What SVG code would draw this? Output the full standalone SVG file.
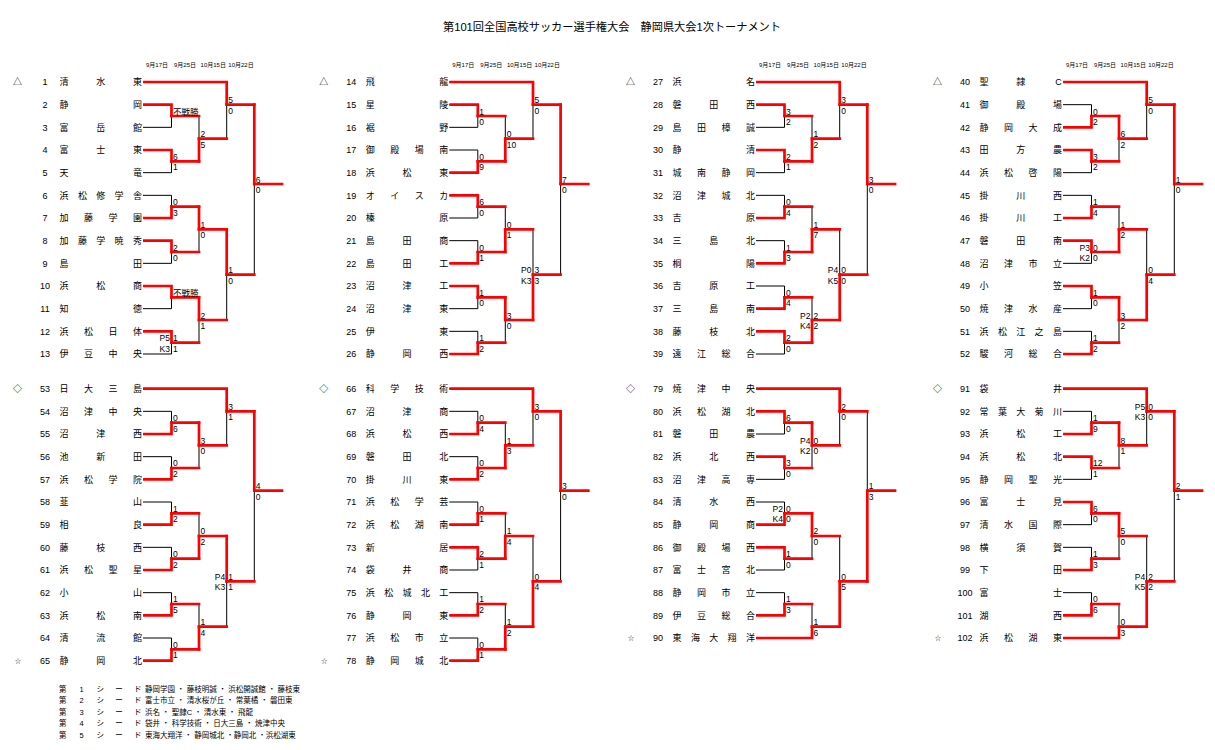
<svg xmlns="http://www.w3.org/2000/svg" xmlns:xlink="http://www.w3.org/1999/xlink" width="1215" height="750" viewBox="0 0 1215 750">
<style>
text{font-family:"Liberation Sans","Noto Sans CJK JP",sans-serif;fill:#000}
.k{fill:none;stroke:#000;stroke-width:1}
.r{fill:none;stroke:#f00;stroke-width:2.7;stroke-linecap:square}
.tm{font-size:9px;text-anchor:middle}
.sm{font-size:6px;text-anchor:middle}
.sc text{font-size:8.5px}
.sc .p{text-anchor:end}
.dt{font-size:6px;text-anchor:middle}
.lg{font-size:7.5px}
.lgm{text-anchor:middle}
.ttl{font-size:11.5px;text-anchor:middle}
</style>
<defs>
<path id="bk13" d="M143 0H226.7M143 22.67H171.5M143 45.33H171.5M143 68H171.5M143 90.67H171.5M143 113.33H171.5M143 136H171.5M143 158.67H171.5M143 181.33H171.5M143 204H171.5M143 226.67H171.5M143 249.33H171.5M143 272H171.5M171.5 22.67V45.33M171.5 68V90.67M171.5 113.33V136M171.5 158.67V181.33M171.5 204V226.67M171.5 249.33V272M199 34V79.33M199 124.67V170M199 215.33V260.67M226.7 0V56.67M226.7 147.33V238M254.3 22.67V192.67"/>
<path id="bk12" d="M143 0H226.7M143 22.67H171.5M143 45.33H171.5M143 68H171.5M143 90.67H171.5M143 113.33H171.5M143 136H171.5M143 158.67H171.5M143 181.33H171.5M143 204H171.5M143 226.67H171.5M143 249.33H199M171.5 22.67V45.33M171.5 68V90.67M171.5 113.33V136M171.5 158.67V181.33M171.5 204V226.67M199 34V79.33M199 124.67V170M199 215.33V249.33M226.7 0V56.67M226.7 147.33V238M254.3 22.67V192.67"/>
<path id="rd13" d="M171.5 34H199M171.5 79.33H199M171.5 124.67H199M171.5 170H199M171.5 215.33H199M171.5 260.67H199M199 56.67H226.7M199 147.33H226.7M199 238H226.7M226.7 22.67H254.3M226.7 192.67H254.3M254.3 102H282"/>
<path id="rd12" d="M171.5 34H199M171.5 79.33H199M171.5 124.67H199M171.5 170H199M171.5 215.33H199M199 56.67H226.7M199 147.33H226.7M199 238H226.7M226.7 22.67H254.3M226.7 192.67H254.3M254.3 102H282"/>
</defs>
<rect width="1215" height="750" fill="#fff"/>
<text class="ttl" x="612" y="31.3" textLength="338" lengthAdjust="spacingAndGlyphs">第101回全国高校サッカー選手権大会　静岡県大会1次トーナメント</text>

<g id="dates">
<g transform="translate(0,82)"><text class="dt" x="157" y="-15.2">9月17日</text><text class="dt" x="185" y="-15.2">9月25日</text><text class="dt" x="213.3" y="-15.2">10月15日</text><text class="dt" x="241" y="-15.2">10月22日</text></g>
<g transform="translate(306.3,82)"><text class="dt" x="157" y="-15.2">9月17日</text><text class="dt" x="185" y="-15.2">9月25日</text><text class="dt" x="213.3" y="-15.2">10月15日</text><text class="dt" x="241" y="-15.2">10月22日</text></g>
<g transform="translate(613,82)"><text class="dt" x="157" y="-15.2">9月17日</text><text class="dt" x="185" y="-15.2">9月25日</text><text class="dt" x="213.3" y="-15.2">10月15日</text><text class="dt" x="241" y="-15.2">10月22日</text></g>
<g transform="translate(920,82)"><text class="dt" x="157" y="-15.2">9月17日</text><text class="dt" x="185" y="-15.2">9月25日</text><text class="dt" x="213.3" y="-15.2">10月15日</text><text class="dt" x="241" y="-15.2">10月22日</text></g>
</g>

<g id="connectors">
<g id="c-a" transform="translate(0,82)">
<use href="#bk13" class="k"/><use href="#rd13" class="r"/>
<path class="r" d="M144.4 0H226.7M144.4 22.67H171.5M144.4 68H171.5M144.4 136H171.5M144.4 158.67H171.5M144.4 204H171.5M144.4 249.33H171.5M171.5 22.67V34M171.5 68V79.33M171.5 124.67V136M171.5 158.67V170M171.5 204V215.33M171.5 249.33V260.67M199 56.67V79.33M199 124.67V147.33M199 215.33V238M226.7 0V22.67M226.7 147.33V192.67M254.3 22.67V102"/>
</g>
<g id="c-b" transform="translate(0,388.67)">
<use href="#bk13" class="k"/><use href="#rd13" class="r"/>
<path class="r" d="M144.4 0H226.7M144.4 45.33H171.5M144.4 90.67H171.5M144.4 136H171.5M144.4 181.33H171.5M144.4 226.67H171.5M144.4 272H171.5M171.5 34V45.33M171.5 79.33V90.67M171.5 124.67V136M171.5 170V181.33M171.5 215.33V226.67M171.5 260.67V272M199 34V56.67M199 147.33V170M199 238V260.67M226.7 0V22.67M226.7 147.33V192.67M254.3 22.67V102"/>
</g>
<g id="c-c" transform="translate(306.3,82)">
<use href="#bk13" class="k"/><use href="#rd13" class="r"/>
<path class="r" d="M144.4 0H226.7M144.4 22.67H171.5M144.4 90.67H171.5M144.4 113.33H171.5M144.4 181.33H171.5M144.4 204H171.5M144.4 272H171.5M171.5 22.67V34M171.5 79.33V90.67M171.5 113.33V124.67M171.5 170V181.33M171.5 204V215.33M171.5 260.67V272M199 56.67V79.33M199 147.33V170M199 215.33V238M226.7 0V22.67M226.7 192.67V238M254.3 22.67V102"/>
</g>
<g id="c-d" transform="translate(306.3,388.67)">
<use href="#bk13" class="k"/><use href="#rd13" class="r"/>
<path class="r" d="M144.4 0H226.7M144.4 45.33H171.5M144.4 90.67H171.5M144.4 136H171.5M144.4 158.67H171.5M144.4 226.67H171.5M144.4 272H171.5M171.5 34V45.33M171.5 79.33V90.67M171.5 124.67V136M171.5 158.67V170M171.5 215.33V226.67M171.5 260.67V272M199 56.67V79.33M199 147.33V170M199 238V260.67M226.7 0V22.67M226.7 192.67V238M254.3 22.67V102"/>
</g>
<g id="c-e" transform="translate(613,82)">
<use href="#bk13" class="k"/><use href="#rd13" class="r"/>
<path class="r" d="M144.4 0H226.7M144.4 22.67H171.5M144.4 68H171.5M144.4 136H171.5M144.4 181.33H171.5M144.4 226.67H171.5M144.4 249.33H171.5M171.5 22.67V34M171.5 68V79.33M171.5 124.67V136M171.5 170V181.33M171.5 215.33V226.67M171.5 249.33V260.67M199 56.67V79.33M199 147.33V170M199 238V260.67M226.7 0V22.67M226.7 192.67V238M254.3 22.67V102"/>
</g>
<g id="c-f" transform="translate(613,388.67)">
<use href="#bk12" class="k"/><use href="#rd12" class="r"/>
<path class="r" d="M144.4 0H226.7M144.4 22.67H171.5M144.4 68H171.5M144.4 136H171.5M144.4 158.67H171.5M144.4 226.67H171.5M144.4 249.33H199M171.5 22.67V34M171.5 68V79.33M171.5 124.67V136M171.5 158.67V170M171.5 215.33V226.67M199 34V56.67M199 124.67V147.33M199 238V249.33M226.7 0V22.67M226.7 192.67V238M254.3 102V192.67"/>
</g>
<g id="c-g" transform="translate(920,82)">
<use href="#bk13" class="k"/><use href="#rd13" class="r"/>
<path class="r" d="M144.4 0H226.7M144.4 45.33H171.5M144.4 68H171.5M144.4 136H171.5M144.4 158.67H171.5M144.4 204H171.5M144.4 272H171.5M171.5 34V45.33M171.5 68V79.33M171.5 124.67V136M171.5 158.67V170M171.5 204V215.33M171.5 260.67V272M199 34V56.67M199 147.33V170M199 215.33V238M226.7 0V22.67M226.7 192.67V238M254.3 22.67V102"/>
</g>
<g id="c-h" transform="translate(920,388.67)">
<use href="#bk12" class="k"/><use href="#rd12" class="r"/>
<path class="r" d="M144.4 0H226.7M144.4 45.33H171.5M144.4 68H171.5M144.4 113.33H171.5M144.4 181.33H171.5M144.4 226.67H171.5M144.4 249.33H199M171.5 34V45.33M171.5 68V79.33M171.5 113.33V124.67M171.5 170V181.33M171.5 215.33V226.67M199 34V56.67M199 124.67V147.33M199 238V249.33M226.7 0V22.67M226.7 192.67V238M254.3 22.67V102"/>
</g>
</g>

<g id="scores">
<g class="sc" transform="translate(0,82)">
<text x="173" y="32.5">不戦勝</text>
<text x="173" y="77.8">6</text><text x="173" y="88.3">1</text>
<text x="173" y="123.2">0</text><text x="173" y="133.7">3</text>
<text x="173" y="168.5">2</text><text x="173" y="179">0</text>
<text x="173" y="213.8">不戦勝</text>
<text x="173" y="259.2">1</text><text x="173" y="269.7">1</text><text class="p" x="170" y="259.2">P5</text><text class="p" x="170" y="269.7">K3</text>
<text x="200.5" y="55.2">2</text><text x="200.5" y="65.7">5</text>
<text x="200.5" y="145.8">1</text><text x="200.5" y="156.3">0</text>
<text x="200.5" y="236.5">2</text><text x="200.5" y="247">1</text>
<text x="228.2" y="21.2">5</text><text x="228.2" y="31.7">0</text>
<text x="228.2" y="191.2">1</text><text x="228.2" y="201.7">0</text>
<text x="255.8" y="100.5">6</text><text x="255.8" y="111">0</text>
</g>
<g class="sc" transform="translate(0,388.67)">
<text x="173" y="32.5">0</text><text x="173" y="43">6</text>
<text x="173" y="77.8">0</text><text x="173" y="88.3">2</text>
<text x="173" y="123.2">1</text><text x="173" y="133.7">2</text>
<text x="173" y="168.5">0</text><text x="173" y="179">2</text>
<text x="173" y="213.8">1</text><text x="173" y="224.3">5</text>
<text x="173" y="259.2">0</text><text x="173" y="269.7">1</text>
<text x="200.5" y="55.2">3</text><text x="200.5" y="65.7">0</text>
<text x="200.5" y="145.8">0</text><text x="200.5" y="156.3">2</text>
<text x="200.5" y="236.5">1</text><text x="200.5" y="247">4</text>
<text x="228.2" y="21.2">3</text><text x="228.2" y="31.7">1</text>
<text x="228.2" y="191.2">1</text><text x="228.2" y="201.7">1</text><text class="p" x="225.2" y="191.2">P4</text><text class="p" x="225.2" y="201.7">K3</text>
<text x="255.8" y="100.5">4</text><text x="255.8" y="111">0</text>
</g>
<g class="sc" transform="translate(306.3,82)">
<text x="173" y="32.5">1</text><text x="173" y="43">0</text>
<text x="173" y="77.8">0</text><text x="173" y="88.3">9</text>
<text x="173" y="123.2">6</text><text x="173" y="133.7">0</text>
<text x="173" y="168.5">0</text><text x="173" y="179">1</text>
<text x="173" y="213.8">1</text><text x="173" y="224.3">0</text>
<text x="173" y="259.2">1</text><text x="173" y="269.7">2</text>
<text x="200.5" y="55.2">0</text><text x="200.5" y="65.7">10</text>
<text x="200.5" y="145.8">0</text><text x="200.5" y="156.3">1</text>
<text x="200.5" y="236.5">3</text><text x="200.5" y="247">0</text>
<text x="228.2" y="21.2">5</text><text x="228.2" y="31.7">0</text>
<text x="228.2" y="191.2">3</text><text x="228.2" y="201.7">3</text><text class="p" x="225.2" y="191.2">P0</text><text class="p" x="225.2" y="201.7">K3</text>
<text x="255.8" y="100.5">7</text><text x="255.8" y="111">0</text>
</g>
<g class="sc" transform="translate(306.3,388.67)">
<text x="173" y="32.5">0</text><text x="173" y="43">4</text>
<text x="173" y="77.8">0</text><text x="173" y="88.3">2</text>
<text x="173" y="123.2">0</text><text x="173" y="133.7">1</text>
<text x="173" y="168.5">2</text><text x="173" y="179">1</text>
<text x="173" y="213.8">1</text><text x="173" y="224.3">2</text>
<text x="173" y="259.2">0</text><text x="173" y="269.7">1</text>
<text x="200.5" y="55.2">1</text><text x="200.5" y="65.7">3</text>
<text x="200.5" y="145.8">1</text><text x="200.5" y="156.3">4</text>
<text x="200.5" y="236.5">1</text><text x="200.5" y="247">2</text>
<text x="228.2" y="21.2">3</text><text x="228.2" y="31.7">0</text>
<text x="228.2" y="191.2">0</text><text x="228.2" y="201.7">4</text>
<text x="255.8" y="100.5">3</text><text x="255.8" y="111">0</text>
</g>
<g class="sc" transform="translate(613,82)">
<text x="173" y="32.5">3</text><text x="173" y="43">2</text>
<text x="173" y="77.8">2</text><text x="173" y="88.3">1</text>
<text x="173" y="123.2">0</text><text x="173" y="133.7">4</text>
<text x="173" y="168.5">1</text><text x="173" y="179">3</text>
<text x="173" y="213.8">0</text><text x="173" y="224.3">4</text>
<text x="173" y="259.2">2</text><text x="173" y="269.7">0</text>
<text x="200.5" y="55.2">1</text><text x="200.5" y="65.7">2</text>
<text x="200.5" y="145.8">1</text><text x="200.5" y="156.3">7</text>
<text x="200.5" y="236.5">2</text><text x="200.5" y="247">2</text><text class="p" x="197.5" y="236.5">P2</text><text class="p" x="197.5" y="247">K4</text>
<text x="228.2" y="21.2">3</text><text x="228.2" y="31.7">0</text>
<text x="228.2" y="191.2">0</text><text x="228.2" y="201.7">0</text><text class="p" x="225.2" y="191.2">P4</text><text class="p" x="225.2" y="201.7">K5</text>
<text x="255.8" y="100.5">3</text><text x="255.8" y="111">0</text>
</g>
<g class="sc" transform="translate(613,388.67)">
<text x="173" y="32.5">6</text><text x="173" y="43">0</text>
<text x="173" y="77.8">3</text><text x="173" y="88.3">0</text>
<text x="173" y="123.2">0</text><text x="173" y="133.7">0</text><text class="p" x="170" y="123.2">P2</text><text class="p" x="170" y="133.7">K4</text>
<text x="173" y="168.5">1</text><text x="173" y="179">0</text>
<text x="173" y="213.8">1</text><text x="173" y="224.3">3</text>
<text x="200.5" y="55.2">0</text><text x="200.5" y="65.7">0</text><text class="p" x="197.5" y="55.2">P4</text><text class="p" x="197.5" y="65.7">K2</text>
<text x="200.5" y="145.8">2</text><text x="200.5" y="156.3">0</text>
<text x="200.5" y="236.5">1</text><text x="200.5" y="247">6</text>
<text x="228.2" y="21.2">2</text><text x="228.2" y="31.7">0</text>
<text x="228.2" y="191.2">0</text><text x="228.2" y="201.7">5</text>
<text x="255.8" y="100.5">1</text><text x="255.8" y="111">3</text>
</g>
<g class="sc" transform="translate(920,82)">
<text x="173" y="32.5">0</text><text x="173" y="43">2</text>
<text x="173" y="77.8">3</text><text x="173" y="88.3">2</text>
<text x="173" y="123.2">1</text><text x="173" y="133.7">4</text>
<text x="173" y="168.5">0</text><text x="173" y="179">0</text><text class="p" x="170" y="168.5">P3</text><text class="p" x="170" y="179">K2</text>
<text x="173" y="213.8">1</text><text x="173" y="224.3">0</text>
<text x="173" y="259.2">1</text><text x="173" y="269.7">2</text>
<text x="200.5" y="55.2">6</text><text x="200.5" y="65.7">2</text>
<text x="200.5" y="145.8">1</text><text x="200.5" y="156.3">2</text>
<text x="200.5" y="236.5">3</text><text x="200.5" y="247">2</text>
<text x="228.2" y="21.2">5</text><text x="228.2" y="31.7">0</text>
<text x="228.2" y="191.2">0</text><text x="228.2" y="201.7">4</text>
<text x="255.8" y="100.5">1</text><text x="255.8" y="111">0</text>
</g>
<g class="sc" transform="translate(920,388.67)">
<text x="173" y="32.5">1</text><text x="173" y="43">9</text>
<text x="173" y="77.8">12</text><text x="173" y="88.3">1</text>
<text x="173" y="123.2">6</text><text x="173" y="133.7">0</text>
<text x="173" y="168.5">1</text><text x="173" y="179">3</text>
<text x="173" y="213.8">0</text><text x="173" y="224.3">6</text>
<text x="200.5" y="55.2">8</text><text x="200.5" y="65.7">1</text>
<text x="200.5" y="145.8">5</text><text x="200.5" y="156.3">0</text>
<text x="200.5" y="236.5">0</text><text x="200.5" y="247">3</text>
<text x="228.2" y="21.2">0</text><text x="228.2" y="31.7">0</text><text class="p" x="225.2" y="21.2">P5</text><text class="p" x="225.2" y="31.7">K3</text>
<text x="228.2" y="191.2">2</text><text x="228.2" y="201.7">2</text><text class="p" x="225.2" y="191.2">P4</text><text class="p" x="225.2" y="201.7">K5</text>
<text x="255.8" y="100.5">2</text><text x="255.8" y="111">1</text>
</g>
</g>

<g id="teams">
<g transform="translate(0,82)">
<g id="team-1"><text class="tm" x="17.5" y="3.2">△</text><text class="tm" x="45" y="3.2">1</text><text class="tm" x="64 100.75 137.5" y="3.2">清水東</text></g>
<g id="team-2"><text class="tm" x="45" y="25.87">2</text><text class="tm" x="64 137.5" y="25.87">静岡</text></g>
<g id="team-3"><text class="tm" x="45" y="48.53">3</text><text class="tm" x="64 100.75 137.5" y="48.53">富岳館</text></g>
<g id="team-4"><text class="tm" x="45" y="71.2">4</text><text class="tm" x="64 100.75 137.5" y="71.2">富士東</text></g>
<g id="team-5"><text class="tm" x="45" y="93.87">5</text><text class="tm" x="64 137.5" y="93.87">天竜</text></g>
<g id="team-6"><text class="tm" x="45" y="116.53">6</text><text class="tm" x="64 82.4 100.8 119.1 137.5" y="116.53">浜松修学舎</text></g>
<g id="team-7"><text class="tm" x="45" y="139.2">7</text><text class="tm" x="64 88.5 113 137.5" y="139.2">加藤学園</text></g>
<g id="team-8"><text class="tm" x="45" y="161.87">8</text><text class="tm" x="64 82.4 100.8 119.1 137.5" y="161.87">加藤学暁秀</text></g>
<g id="team-9"><text class="tm" x="45" y="184.53">9</text><text class="tm" x="64 137.5" y="184.53">島田</text></g>
<g id="team-10"><text class="tm" x="45" y="207.2">10</text><text class="tm" x="64 100.75 137.5" y="207.2">浜松商</text></g>
<g id="team-11"><text class="tm" x="45" y="229.87">11</text><text class="tm" x="64 137.5" y="229.87">知徳</text></g>
<g id="team-12"><text class="tm" x="45" y="252.53">12</text><text class="tm" x="64 88.5 113 137.5" y="252.53">浜松日体</text></g>
<g id="team-13"><text class="tm" x="45" y="275.2">13</text><text class="tm" x="64 88.5 113 137.5" y="275.2">伊豆中央</text></g>
</g>
<g transform="translate(0,388.67)">
<g id="team-53"><text class="tm" x="17.5" y="3.2">◇</text><text class="tm" x="45" y="3.2">53</text><text class="tm" x="64 88.5 113 137.5" y="3.2">日大三島</text></g>
<g id="team-54"><text class="tm" x="45" y="25.87">54</text><text class="tm" x="64 88.5 113 137.5" y="25.87">沼津中央</text></g>
<g id="team-55"><text class="tm" x="45" y="48.53">55</text><text class="tm" x="64 100.75 137.5" y="48.53">沼津西</text></g>
<g id="team-56"><text class="tm" x="45" y="71.2">56</text><text class="tm" x="64 100.75 137.5" y="71.2">池新田</text></g>
<g id="team-57"><text class="tm" x="45" y="93.87">57</text><text class="tm" x="64 88.5 113 137.5" y="93.87">浜松学院</text></g>
<g id="team-58"><text class="tm" x="45" y="116.53">58</text><text class="tm" x="64 137.5" y="116.53">韮山</text></g>
<g id="team-59"><text class="tm" x="45" y="139.2">59</text><text class="tm" x="64 137.5" y="139.2">相良</text></g>
<g id="team-60"><text class="tm" x="45" y="161.87">60</text><text class="tm" x="64 100.75 137.5" y="161.87">藤枝西</text></g>
<g id="team-61"><text class="tm" x="45" y="184.53">61</text><text class="tm" x="64 88.5 113 137.5" y="184.53">浜松聖星</text></g>
<g id="team-62"><text class="tm" x="45" y="207.2">62</text><text class="tm" x="64 137.5" y="207.2">小山</text></g>
<g id="team-63"><text class="tm" x="45" y="229.87">63</text><text class="tm" x="64 100.75 137.5" y="229.87">浜松南</text></g>
<g id="team-64"><text class="tm" x="45" y="252.53">64</text><text class="tm" x="64 100.75 137.5" y="252.53">清流館</text></g>
<g id="team-65"><text class="sm" x="18" y="274.5">☆</text><text class="tm" x="45" y="275.2">65</text><text class="tm" x="64 100.75 137.5" y="275.2">静岡北</text></g>
</g>
<g transform="translate(306.3,82)">
<g id="team-14"><text class="tm" x="17.5" y="3.2">△</text><text class="tm" x="45" y="3.2">14</text><text class="tm" x="64 137.5" y="3.2">飛龍</text></g>
<g id="team-15"><text class="tm" x="45" y="25.87">15</text><text class="tm" x="64 137.5" y="25.87">星陵</text></g>
<g id="team-16"><text class="tm" x="45" y="48.53">16</text><text class="tm" x="64 137.5" y="48.53">裾野</text></g>
<g id="team-17"><text class="tm" x="45" y="71.2">17</text><text class="tm" x="64 88.5 113 137.5" y="71.2">御殿場南</text></g>
<g id="team-18"><text class="tm" x="45" y="93.87">18</text><text class="tm" x="64 100.75 137.5" y="93.87">浜松東</text></g>
<g id="team-19"><text class="tm" x="45" y="116.53">19</text><text class="tm" x="64 88.5 113 137.5" y="116.53">オイスカ</text></g>
<g id="team-20"><text class="tm" x="45" y="139.2">20</text><text class="tm" x="64 137.5" y="139.2">榛原</text></g>
<g id="team-21"><text class="tm" x="45" y="161.87">21</text><text class="tm" x="64 100.75 137.5" y="161.87">島田商</text></g>
<g id="team-22"><text class="tm" x="45" y="184.53">22</text><text class="tm" x="64 100.75 137.5" y="184.53">島田工</text></g>
<g id="team-23"><text class="tm" x="45" y="207.2">23</text><text class="tm" x="64 100.75 137.5" y="207.2">沼津工</text></g>
<g id="team-24"><text class="tm" x="45" y="229.87">24</text><text class="tm" x="64 100.75 137.5" y="229.87">沼津東</text></g>
<g id="team-25"><text class="tm" x="45" y="252.53">25</text><text class="tm" x="64 137.5" y="252.53">伊東</text></g>
<g id="team-26"><text class="tm" x="45" y="275.2">26</text><text class="tm" x="64 100.75 137.5" y="275.2">静岡西</text></g>
</g>
<g transform="translate(306.3,388.67)">
<g id="team-66"><text class="tm" x="17.5" y="3.2">◇</text><text class="tm" x="45" y="3.2">66</text><text class="tm" x="64 88.5 113 137.5" y="3.2">科学技術</text></g>
<g id="team-67"><text class="tm" x="45" y="25.87">67</text><text class="tm" x="64 100.75 137.5" y="25.87">沼津商</text></g>
<g id="team-68"><text class="tm" x="45" y="48.53">68</text><text class="tm" x="64 100.75 137.5" y="48.53">浜松西</text></g>
<g id="team-69"><text class="tm" x="45" y="71.2">69</text><text class="tm" x="64 100.75 137.5" y="71.2">磐田北</text></g>
<g id="team-70"><text class="tm" x="45" y="93.87">70</text><text class="tm" x="64 100.75 137.5" y="93.87">掛川東</text></g>
<g id="team-71"><text class="tm" x="45" y="116.53">71</text><text class="tm" x="64 88.5 113 137.5" y="116.53">浜松学芸</text></g>
<g id="team-72"><text class="tm" x="45" y="139.2">72</text><text class="tm" x="64 88.5 113 137.5" y="139.2">浜松湖南</text></g>
<g id="team-73"><text class="tm" x="45" y="161.87">73</text><text class="tm" x="64 137.5" y="161.87">新居</text></g>
<g id="team-74"><text class="tm" x="45" y="184.53">74</text><text class="tm" x="64 100.75 137.5" y="184.53">袋井商</text></g>
<g id="team-75"><text class="tm" x="45" y="207.2">75</text><text class="tm" x="64 82.4 100.8 119.1 137.5" y="207.2">浜松城北工</text></g>
<g id="team-76"><text class="tm" x="45" y="229.87">76</text><text class="tm" x="64 100.75 137.5" y="229.87">静岡東</text></g>
<g id="team-77"><text class="tm" x="45" y="252.53">77</text><text class="tm" x="64 88.5 113 137.5" y="252.53">浜松市立</text></g>
<g id="team-78"><text class="sm" x="18" y="274.5">☆</text><text class="tm" x="45" y="275.2">78</text><text class="tm" x="64 88.5 113 137.5" y="275.2">静岡城北</text></g>
</g>
<g transform="translate(613,82)">
<g id="team-27"><text class="tm" x="17.5" y="3.2">△</text><text class="tm" x="45" y="3.2">27</text><text class="tm" x="64 137.5" y="3.2">浜名</text></g>
<g id="team-28"><text class="tm" x="45" y="25.87">28</text><text class="tm" x="64 100.75 137.5" y="25.87">磐田西</text></g>
<g id="team-29"><text class="tm" x="45" y="48.53">29</text><text class="tm" x="64 88.5 113 137.5" y="48.53">島田樟誠</text></g>
<g id="team-30"><text class="tm" x="45" y="71.2">30</text><text class="tm" x="64 137.5" y="71.2">静清</text></g>
<g id="team-31"><text class="tm" x="45" y="93.87">31</text><text class="tm" x="64 88.5 113 137.5" y="93.87">城南静岡</text></g>
<g id="team-32"><text class="tm" x="45" y="116.53">32</text><text class="tm" x="64 88.5 113 137.5" y="116.53">沼津城北</text></g>
<g id="team-33"><text class="tm" x="45" y="139.2">33</text><text class="tm" x="64 137.5" y="139.2">吉原</text></g>
<g id="team-34"><text class="tm" x="45" y="161.87">34</text><text class="tm" x="64 100.75 137.5" y="161.87">三島北</text></g>
<g id="team-35"><text class="tm" x="45" y="184.53">35</text><text class="tm" x="64 137.5" y="184.53">桐陽</text></g>
<g id="team-36"><text class="tm" x="45" y="207.2">36</text><text class="tm" x="64 100.75 137.5" y="207.2">吉原工</text></g>
<g id="team-37"><text class="tm" x="45" y="229.87">37</text><text class="tm" x="64 100.75 137.5" y="229.87">三島南</text></g>
<g id="team-38"><text class="tm" x="45" y="252.53">38</text><text class="tm" x="64 100.75 137.5" y="252.53">藤枝北</text></g>
<g id="team-39"><text class="tm" x="45" y="275.2">39</text><text class="tm" x="64 88.5 113 137.5" y="275.2">遠江総合</text></g>
</g>
<g transform="translate(613,388.67)">
<g id="team-79"><text class="tm" x="17.5" y="3.2">◇</text><text class="tm" x="45" y="3.2">79</text><text class="tm" x="64 88.5 113 137.5" y="3.2">焼津中央</text></g>
<g id="team-80"><text class="tm" x="45" y="25.87">80</text><text class="tm" x="64 88.5 113 137.5" y="25.87">浜松湖北</text></g>
<g id="team-81"><text class="tm" x="45" y="48.53">81</text><text class="tm" x="64 100.75 137.5" y="48.53">磐田農</text></g>
<g id="team-82"><text class="tm" x="45" y="71.2">82</text><text class="tm" x="64 100.75 137.5" y="71.2">浜北西</text></g>
<g id="team-83"><text class="tm" x="45" y="93.87">83</text><text class="tm" x="64 88.5 113 137.5" y="93.87">沼津高専</text></g>
<g id="team-84"><text class="tm" x="45" y="116.53">84</text><text class="tm" x="64 100.75 137.5" y="116.53">清水西</text></g>
<g id="team-85"><text class="tm" x="45" y="139.2">85</text><text class="tm" x="64 100.75 137.5" y="139.2">静岡商</text></g>
<g id="team-86"><text class="tm" x="45" y="161.87">86</text><text class="tm" x="64 88.5 113 137.5" y="161.87">御殿場西</text></g>
<g id="team-87"><text class="tm" x="45" y="184.53">87</text><text class="tm" x="64 88.5 113 137.5" y="184.53">富士宮北</text></g>
<g id="team-88"><text class="tm" x="45" y="207.2">88</text><text class="tm" x="64 88.5 113 137.5" y="207.2">静岡市立</text></g>
<g id="team-89"><text class="tm" x="45" y="229.87">89</text><text class="tm" x="64 88.5 113 137.5" y="229.87">伊豆総合</text></g>
<g id="team-90"><text class="sm" x="18" y="251.8">☆</text><text class="tm" x="45" y="252.53">90</text><text class="tm" x="64 82.4 100.8 119.1 137.5" y="252.53">東海大翔洋</text></g>
</g>
<g transform="translate(920,82)">
<g id="team-40"><text class="tm" x="17.5" y="3.2">△</text><text class="tm" x="45" y="3.2">40</text><text class="tm" x="64 100.75 138.5" y="3.2">聖隷C</text></g>
<g id="team-41"><text class="tm" x="45" y="25.87">41</text><text class="tm" x="64 100.75 137.5" y="25.87">御殿場</text></g>
<g id="team-42"><text class="tm" x="45" y="48.53">42</text><text class="tm" x="64 88.5 113 137.5" y="48.53">静岡大成</text></g>
<g id="team-43"><text class="tm" x="45" y="71.2">43</text><text class="tm" x="64 100.75 137.5" y="71.2">田方農</text></g>
<g id="team-44"><text class="tm" x="45" y="93.87">44</text><text class="tm" x="64 88.5 113 137.5" y="93.87">浜松啓陽</text></g>
<g id="team-45"><text class="tm" x="45" y="116.53">45</text><text class="tm" x="64 100.75 137.5" y="116.53">掛川西</text></g>
<g id="team-46"><text class="tm" x="45" y="139.2">46</text><text class="tm" x="64 100.75 137.5" y="139.2">掛川工</text></g>
<g id="team-47"><text class="tm" x="45" y="161.87">47</text><text class="tm" x="64 100.75 137.5" y="161.87">磐田南</text></g>
<g id="team-48"><text class="tm" x="45" y="184.53">48</text><text class="tm" x="64 88.5 113 137.5" y="184.53">沼津市立</text></g>
<g id="team-49"><text class="tm" x="45" y="207.2">49</text><text class="tm" x="64 137.5" y="207.2">小笠</text></g>
<g id="team-50"><text class="tm" x="45" y="229.87">50</text><text class="tm" x="64 88.5 113 137.5" y="229.87">焼津水産</text></g>
<g id="team-51"><text class="tm" x="45" y="252.53">51</text><text class="tm" x="64 82.4 100.8 119.1 137.5" y="252.53">浜松江之島</text></g>
<g id="team-52"><text class="tm" x="45" y="275.2">52</text><text class="tm" x="64 88.5 113 137.5" y="275.2">駿河総合</text></g>
</g>
<g transform="translate(920,388.67)">
<g id="team-91"><text class="tm" x="17.5" y="3.2">◇</text><text class="tm" x="45" y="3.2">91</text><text class="tm" x="64 137.5" y="3.2">袋井</text></g>
<g id="team-92"><text class="tm" x="45" y="25.87">92</text><text class="tm" x="64 82.4 100.8 119.1 137.5" y="25.87">常葉大菊川</text></g>
<g id="team-93"><text class="tm" x="45" y="48.53">93</text><text class="tm" x="64 100.75 137.5" y="48.53">浜松工</text></g>
<g id="team-94"><text class="tm" x="45" y="71.2">94</text><text class="tm" x="64 100.75 137.5" y="71.2">浜松北</text></g>
<g id="team-95"><text class="tm" x="45" y="93.87">95</text><text class="tm" x="64 88.5 113 137.5" y="93.87">静岡聖光</text></g>
<g id="team-96"><text class="tm" x="45" y="116.53">96</text><text class="tm" x="64 100.75 137.5" y="116.53">富士見</text></g>
<g id="team-97"><text class="tm" x="45" y="139.2">97</text><text class="tm" x="64 88.5 113 137.5" y="139.2">清水国際</text></g>
<g id="team-98"><text class="tm" x="45" y="161.87">98</text><text class="tm" x="64 100.75 137.5" y="161.87">横須賀</text></g>
<g id="team-99"><text class="tm" x="45" y="184.53">99</text><text class="tm" x="64 137.5" y="184.53">下田</text></g>
<g id="team-100"><text class="tm" x="45" y="207.2">100</text><text class="tm" x="64 137.5" y="207.2">富士</text></g>
<g id="team-101"><text class="tm" x="45" y="229.87">101</text><text class="tm" x="64 137.5" y="229.87">湖西</text></g>
<g id="team-102"><text class="sm" x="18" y="251.8">☆</text><text class="tm" x="45" y="252.53">102</text><text class="tm" x="64 88.5 113 137.5" y="252.53">浜松湖東</text></g>
</g>
</g>

<g id="legend">
<text class="lg lgm" x="62.7 81.5 100.2 119 137.7" y="691.8">第1シード</text><text class="lg" x="145" y="691.8">静岡学園 ・ 藤枝明誠 ・ 浜松開誠館 ・ 藤枝東</text>
<text class="lg lgm" x="62.7 81.5 100.2 119 137.7" y="703.3">第2シード</text><text class="lg" x="145" y="703.3">富士市立 ・ 清水桜が丘 ・ 常葉橘 ・ 磐田東</text>
<text class="lg lgm" x="62.7 81.5 100.2 119 137.7" y="714.8">第3シード</text><text class="lg" x="145" y="714.8">浜名 ・ 聖隷C ・ 清水東 ・ 飛龍</text>
<text class="lg lgm" x="62.7 81.5 100.2 119 137.7" y="726.3">第4シード</text><text class="lg" x="145" y="726.3">袋井 ・ 科学技術 ・ 日大三島 ・ 焼津中央</text>
<text class="lg lgm" x="62.7 81.5 100.2 119 137.7" y="737.8">第5シード</text><text class="lg" x="145" y="737.8">東海大翔洋 ・ 静岡城北 ・静岡北 ・浜松湖東</text>
</g>
</svg>
